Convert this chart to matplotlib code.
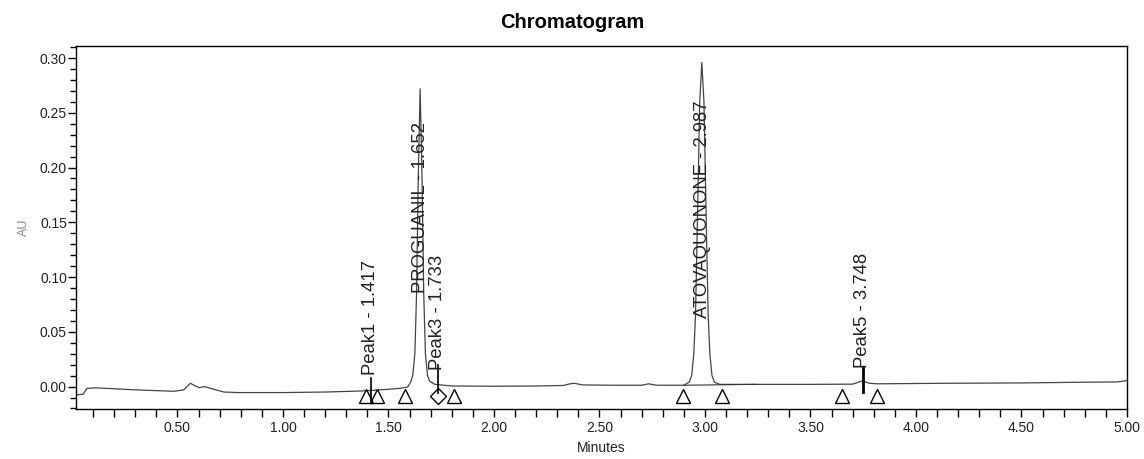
import matplotlib
matplotlib.use('Agg')
import matplotlib.pyplot as plt
from matplotlib.ticker import MultipleLocator, FormatStrFormatter

plt.rcParams['font.family'] = ['Liberation Sans', 'DejaVu Sans']

# detector trace (minutes, AU)
time = [0.019, 0.053, 0.070, 0.112, 0.20, 0.30, 0.365, 0.483, 0.53, 0.561, 0.585,
        0.603, 0.628, 0.654, 0.72, 0.79, 1.0, 1.2, 1.382, 1.50, 1.55, 1.59,
        1.605, 1.615, 1.625, 1.633, 1.641, 1.650, 1.659, 1.667, 1.675, 1.685,
        1.695, 1.72, 1.80, 2.0, 2.2, 2.33, 2.36, 2.38, 2.42, 2.55, 2.70, 2.733,
        2.77, 2.90, 2.925, 2.937, 2.947, 2.955, 2.964, 2.975, 2.985, 2.995,
        3.006, 3.015, 3.023, 3.033, 3.045, 3.07, 3.25, 3.50, 3.70, 3.743, 3.78,
        3.817, 4.15, 4.50, 4.81, 4.95, 4.985, 5.0]
au = [-0.0076, -0.0070, -0.0017, -0.0012, -0.0020, -0.0030, -0.0035, -0.0043,
      -0.0030, 0.0030, 0.0005, -0.0010, 0.0000, -0.0015, -0.0050, -0.0055,
      -0.0055, -0.0050, -0.0040, -0.0025, -0.0017, -0.0005,
      0.004, 0.010, 0.030, 0.085, 0.19, 0.272, 0.19, 0.085, 0.030, 0.010,
      0.005, 0.002, 0.0005, 0.0003, 0.0005, 0.0010, 0.0025, 0.0030, 0.0015,
      0.0012, 0.0012, 0.0025, 0.0012, 0.0012, 0.004, 0.010, 0.030, 0.065,
      0.15, 0.26, 0.296, 0.26, 0.15, 0.065, 0.030, 0.010, 0.004, 0.002,
      0.0020, 0.0020, 0.0022, 0.0050, 0.0030, 0.0025, 0.0030, 0.0033, 0.0040,
      0.0042, 0.0050, 0.0055]

# integration baseline under the atovaquonone peak
base_t = [2.897, 3.24]
base_au = [0.0012, 0.0020]

# peak labels
peak_names = ['Peak1 - 1.417', 'PROGUANIL - 1.652', 'Peak3 - 1.733',
              'ATOVAQUONONE - 2.987', 'Peak5 - 3.748']
peak_times = [1.417, 1.652, 1.733, 2.987, 3.748]
label_y = [0.011, 0.085, 0.015, 0.063, 0.017]

# apex tick marks for the small peaks
tick_t = [1.417, 1.733, 3.748]
tick_lo = [-0.013, -0.006, -0.005]
tick_hi = [0.008, 0.020, 0.017]
tick_lw = [1.2, 1.2, 2.0]

# peak start/end markers
tri_t = [1.395, 1.445, 1.58, 1.812, 2.897, 3.082, 3.649, 3.813]
diamond_t = [1.733]
marker_au = -0.009

fig = plt.figure(figsize=(11.44, 4.59), dpi=100)
ax = fig.add_axes([76 / 1144, 1 - 409 / 459, (1127 - 76) / 1144, (409 - 46) / 459])

ax.plot(time, au, color='#444444', lw=0.9)
ax.plot(base_t, base_au, color='#333333', lw=0.8)

for t, lo, hi, w in zip(tick_t, tick_lo, tick_hi, tick_lw):
    ax.plot([t, t], [lo, hi], color='black', lw=w)

ax.plot(tri_t, [marker_au] * len(tri_t), ls='none', marker='^', ms=10,
        mfc='none', mec='black', mew=1.0)
ax.plot(diamond_t, [marker_au] * len(diamond_t), ls='none', marker='D', ms=8,
        mfc='none', mec='black', mew=1.0)

for name, t, y in zip(peak_names, peak_times, label_y):
    ax.text(t, y, name, rotation=90, ha='center', va='bottom',
            fontsize=13.3, color='#222222')

ax.set_xlim(0.019, 5.0)
ax.set_ylim(-0.0205, 0.311)
ax.xaxis.set_major_locator(MultipleLocator(0.5))
ax.xaxis.set_minor_locator(MultipleLocator(0.1))
ax.yaxis.set_major_locator(MultipleLocator(0.05))
ax.yaxis.set_minor_locator(MultipleLocator(0.01))
ax.xaxis.set_major_formatter(FormatStrFormatter('%.2f'))
ax.yaxis.set_major_formatter(FormatStrFormatter('%.2f'))

ax.tick_params(axis='x', which='both', direction='out', length=6, width=1,
               labelsize=10, pad=3, labelcolor='#222222')
ax.tick_params(axis='y', which='major', direction='out', length=6, width=1,
               labelsize=10, pad=0.5, labelcolor='#222222')
ax.tick_params(axis='y', which='minor', direction='out', length=4, width=1)
for s in ax.spines.values():
    s.set_linewidth(1.0)

ax.set_xlabel('Minutes', fontsize=10, labelpad=4, color='#222222')
ax.set_ylabel('AU', fontsize=9, labelpad=7, color='#888888')

fig.text(0.5, 1 - 28 / 459, 'Chromatogram', ha='center', va='baseline',
         fontsize=14.5, fontweight='bold')

fig.savefig('out.png', dpi=100)
